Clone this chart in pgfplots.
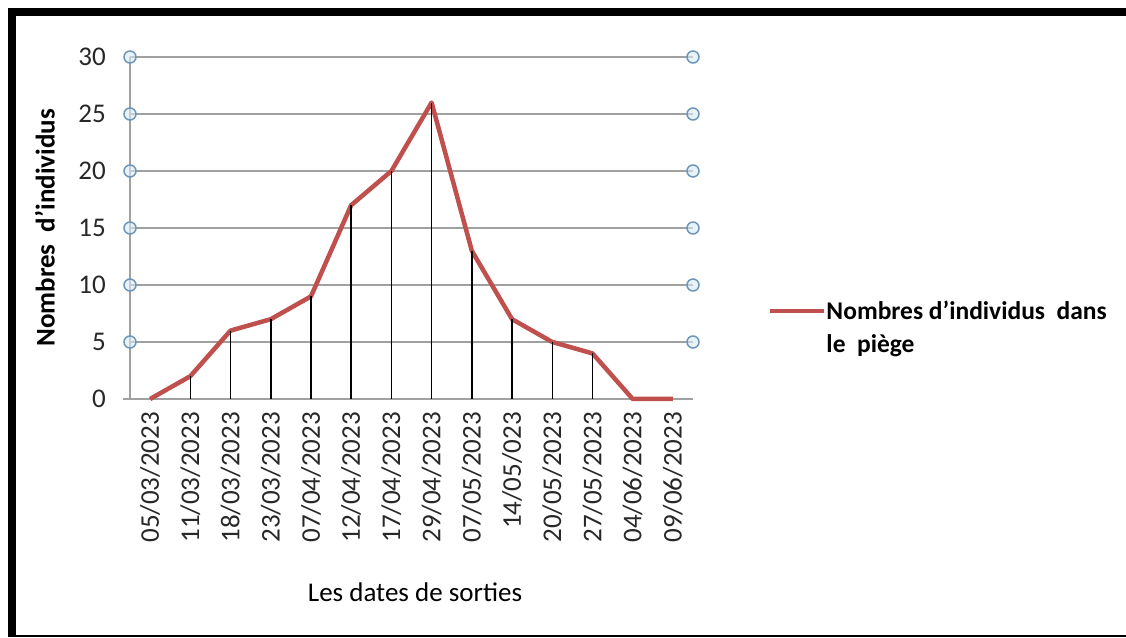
\documentclass[border=0pt]{standalone}
\usepackage{pgfplots}
\usepackage{pgfplotstable}
\pgfplotsset{compat=1.18}
\usepackage{fontspec}
\setmainfont{Carlito}
\definecolor{exred}{RGB}{192,80,77}
\definecolor{gridgray}{RGB}{160,160,160}
\definecolor{mkfill}{RGB}{215,236,244}
\definecolor{mkdraw}{RGB}{110,150,185}
\definecolor{ticktext}{RGB}{40,40,40}

\pgfplotstableread{
x y
0 0
1 2
2 6
3 7
4 9
5 17
6 20
7 26
8 13
9 7
10 5
11 4
12 0
13 0
}\datatable

\begin{document}
\begin{tikzpicture}
\useasboundingbox (0pt,0pt) rectangle (1126pt,637pt);
\fill[white] (0pt,0pt) rectangle (1126pt,637pt);
\fill[black] (8pt,621pt) rectangle (1126pt,629pt);
\fill[black] (8pt,0pt) rectangle (15.5pt,629pt);
\fill[black] (8pt,0pt) rectangle (1126pt,2.5pt);
\begin{axis}[
  at={(130pt,238pt)}, anchor=south west,
  scale only axis, width=563pt, height=342pt,
  xmin=-0.5, xmax=13.5, ymin=0, ymax=30,
  clip=false,
  axis lines*=left,
  axis line style={gridgray, line width=2pt},
  x axis line style={shorten <=-7pt},
  ymajorgrids, grid style={gridgray, line width=2pt},
  major tick length=0pt,
  /pgf/number format/assume math mode=true,
  ytick={0,5,...,30},
  xtick={0,...,13},
  xticklabels={05/03/2023,11/03/2023,18/03/2023,23/03/2023,07/04/2023,12/04/2023,17/04/2023,29/04/2023,07/05/2023,14/05/023,20/05/2023,27/05/2023,04/06/2023,09/06/2023},
  xticklabel style={rotate=90, anchor=east, inner sep=0pt, text=ticktext, font=\fontsize{27}{27}\selectfont},
  xticklabel shift=13pt,
  yticklabel style={anchor=east, inner sep=0pt, text=ticktext, font=\fontsize{27}{27}\selectfont},
  yticklabel shift=24pt,
  legend style={at={(1.1332,0.2865)}, anchor=north west, draw=none, fill=none, inner sep=0pt, outer sep=0pt,
    font=\bfseries\fontsize{25.5}{33}\selectfont, nodes={inner sep=0pt},
    /tikz/every even column/.append style={column sep=4pt}},
  legend image code/.code={\draw[exred, line width=4.5pt] (0pt,0pt) -- (54pt,0pt);},
]
\addplot[exred, line width=4.5pt, line join=round] table[x=x,y=y] {\datatable};
\addlegendentry{\parbox[t]{300pt}{\raggedright Nombres d’individus\ \ dans\\le\ \ piège}}
\addplot[ycomb, black, line width=1.5pt, forget plot] table[x=x,y=y] {\datatable};
\addplot[only marks, mark=*, mark size=6pt, mark options={fill=mkfill, fill opacity=0.6, draw=mkdraw, line width=1.5pt}, forget plot]
  coordinates {(-0.5,5)(-0.5,10)(-0.5,15)(-0.5,20)(-0.5,25)(-0.5,30)
               (13.5,5)(13.5,10)(13.5,15)(13.5,20)(13.5,25)(13.5,30)};
\end{axis}
\node[rotate=90, font=\bfseries\fontsize{27}{27}\selectfont] at (45pt,409pt) {Nombres\ \ d'individus};
\node[font=\fontsize{27}{27}\selectfont] at (415pt,45pt) {Les dates de sorties};
\end{tikzpicture}
\end{document}
